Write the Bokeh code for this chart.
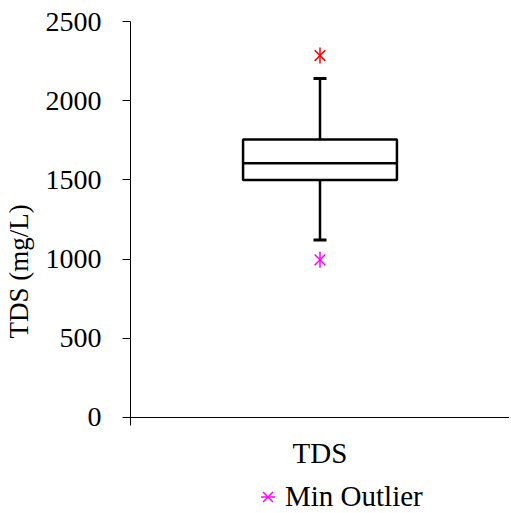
import math
from bokeh.plotting import figure
from bokeh.models import Range1d, FixedTicker, Legend, LegendItem
from bokeh.embed import file_html
from bokeh.resources import INLINE

# ---- data ----
categories = ["TDS"]
q1 = [1500]
median = [1605]
q3 = [1755]
whisker_low = [1120]
whisker_high = [2140]
min_outlier = [995]
max_outlier = [2285]
y_ticks = [0, 500, 1000, 1500, 2000, 2500]

FONT = "Liberation Serif"

# category slots: each category occupies [i, i+1], centred at i+0.5
xc = [i + 0.5 for i in range(len(categories))]

p = figure(x_range=Range1d(0, len(categories)),
           y_range=Range1d(-657, 2500),
           frame_width=379, frame_height=500,
           min_border_left=130, min_border_right=0,
           min_border_top=21, min_border_bottom=0,
           output_backend="svg", toolbar_location=None)
p.outline_line_color = None
p.xgrid.visible = False
p.ygrid.visible = False
p.background_fill_color = "white"
p.border_fill_color = "white"

xa = p.xaxis[0]
xa.fixed_location = 0
xa.ticker = FixedTicker(ticks=xc)
xa.major_label_overrides = {x: c for x, c in zip(xc, categories)}
xa.axis_line_color = "black"
xa.major_tick_out = 0
xa.major_tick_in = 0
xa.minor_tick_out = 0
xa.minor_tick_in = 0
xa.major_label_text_font = FONT
xa.major_label_text_font_size = "29px"
xa.major_label_text_color = "black"
xa.major_label_standoff = 20

ya = p.yaxis[0]
ya.ticker = FixedTicker(ticks=y_ticks)
ya.bounds = (-50, 2500)
ya.axis_line_color = "black"
ya.major_tick_line_color = "black"
ya.major_tick_out = 8
ya.major_tick_in = 0
ya.minor_tick_out = 0
ya.minor_tick_in = 0
ya.major_label_text_font = FONT
ya.major_label_text_font_size = "28px"
ya.major_label_text_color = "black"
ya.major_label_standoff = 21
ya.axis_label = "TDS (mg/L)"
ya.axis_label_text_font = FONT
ya.axis_label_text_font_size = "27px"
ya.axis_label_text_font_style = "normal"
ya.axis_label_text_color = "black"
ya.axis_label_standoff = 9

# whiskers
p.segment(x0=xc, y0=q3, x1=xc, y1=whisker_high,
          line_color="black", line_width=2.5)
p.segment(x0=xc, y0=q1, x1=xc, y1=whisker_low,
          line_color="black", line_width=2.5)
# caps
p.scatter(x=xc, y=whisker_high, marker="dash", size=13,
          line_color="black", line_width=3)
p.scatter(x=xc, y=whisker_low, marker="dash", size=13,
          line_color="black", line_width=3)
# box
p.vbar(x=xc, bottom=q1, top=q3, width=0.406,
       fill_color="white", line_color="black", line_width=2.5)
# median
p.vbar(x=xc, bottom=median, top=median, width=0.406,
       fill_color=None, line_color="black", line_width=2.5)

# outliers (six-armed asterisk: x + vertical dash)
mx1 = p.scatter(x=xc, y=max_outlier, marker="x", size=15,
                line_color="#FF0000", line_width=1.5)
mx2 = p.scatter(x=xc, y=max_outlier, marker="dash", size=16,
                angle=math.pi / 2, line_color="#FF0000", line_width=1.5)
mn1 = p.scatter(x=xc, y=min_outlier, marker="x", size=15,
                line_color="#FF00FF", line_width=1.5)
mn2 = p.scatter(x=xc, y=min_outlier, marker="dash", size=16,
                angle=math.pi / 2, line_color="#FF00FF", line_width=1.5)

legend = Legend(items=[LegendItem(label="Min Outlier", renderers=[mn1, mn2])],
                location=(120, 7), orientation="horizontal",
                padding=0, margin=0, spacing=0,
                glyph_width=35, glyph_height=35, label_standoff=-9,
                label_text_font=FONT, label_text_font_size="29px",
                label_text_color="black",
                border_line_color=None, background_fill_alpha=0)
p.add_layout(legend, "center")

open("out.html", "w").write(file_html(p, INLINE))
